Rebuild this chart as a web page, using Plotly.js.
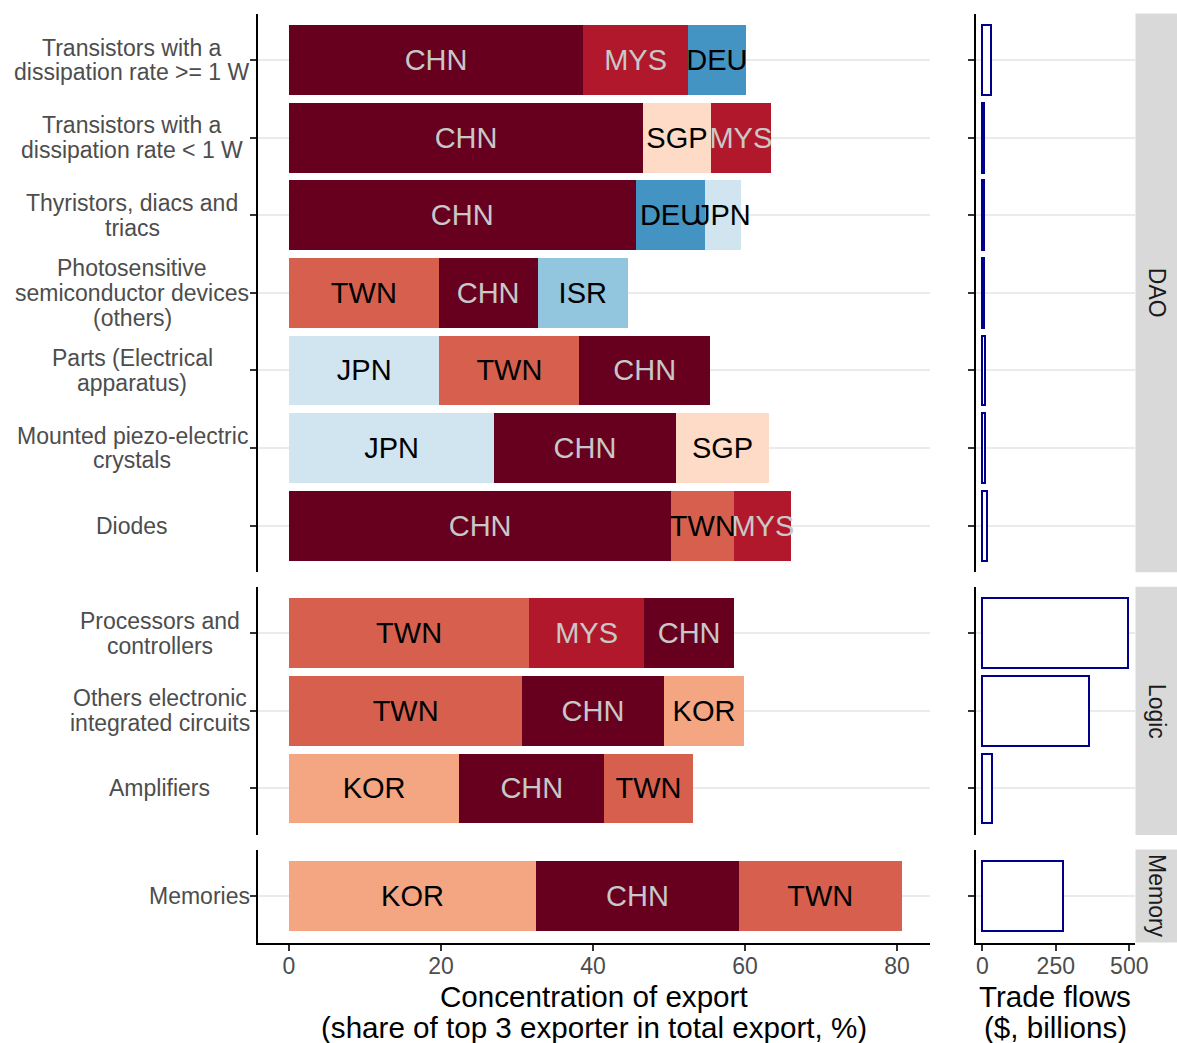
<!DOCTYPE html>
<html><head><meta charset="utf-8">
<script src="https://cdn.plot.ly/plotly-3.0.1.min.js"></script>
<style>html,body{margin:0;padding:0;background:#fff}#chart{width:1177px;height:1043px}</style>
</head><body><div id="chart"></div>
<script>
// ---------------- DATA ----------------
const products = [
  "Transistors with a\ndissipation rate >= 1 W",
  "Transistors with a\ndissipation rate < 1 W",
  "Thyristors, diacs and\ntriacs",
  "Photosensitive\nsemiconductor devices\n(others)",
  "Parts (Electrical\napparatus)",
  "Mounted piezo-electric\ncrystals",
  "Diodes",
  "Processors and\ncontrollers",
  "Others electronic\nintegrated circuits",
  "Amplifiers",
  "Memories"
];
const groups = ["DAO","DAO","DAO","DAO","DAO","DAO","DAO","Logic","Logic","Logic","Memory"];
const exporter1 = ["CHN","CHN","CHN","TWN","JPN","JPN","CHN","TWN","TWN","KOR","KOR"];
const share1    = [38.7, 46.6, 45.6, 19.7, 19.8, 27.0, 50.3, 31.6, 30.7, 22.4, 32.5];
const exporter2 = ["MYS","SGP","DEU","CHN","TWN","CHN","TWN","MYS","CHN","CHN","CHN"];
const share2    = [13.8, 8.9, 9.2, 13.0, 18.4, 23.9, 8.3, 15.1, 18.6, 19.1, 26.7];
const exporter3 = ["DEU","MYS","JPN","ISR","CHN","SGP","MYS","CHN","KOR","TWN","TWN"];
const share3    = [7.6, 7.9, 4.7, 11.9, 17.2, 12.3, 7.5, 11.9, 10.6, 11.6, 21.4];
const tradeFlows = [30, 6, 5, 6, 8, 10, 16, 497, 363, 34, 275];
const facetNames = ["DAO","Logic","Memory"];
const concTicks = [0, 20, 40, 60, 80];
const tradeTicks = [0, 250, 500];
const concTitle = ["Concentration of export", "(share of top 3 exporter in total export, %)"];
const tradeTitle = ["Trade flows", "($, billions)"];

const countryColor = {CHN:"#67001f", MYS:"#b2182b", TWN:"#d6604d", KOR:"#f4a582",
  SGP:"#fddbc7", JPN:"#d1e5f0", ISR:"#92c5de", DEU:"#4393c3"};
const countryText = {CHN:"#c8c8c8", MYS:"#c8c8c8"};

// ---------------- LAYOUT HELPERS ----------------
const W = 1177, H = 1043;
const FONT = "Liberation Sans, Arial, sans-serif";
const px = v => v / W;
const py = v => 1 - v / H;
const facetPx = [[13.5, 572.2], [586.7, 835.0], [849.5, 942.6]];
const leftPanel = [258, 930];
const rightPanel = [975.7, 1135];

const canvas = document.createElement("canvas");
const ctx = canvas.getContext("2d");
ctx.font = "23px 'Liberation Sans'";
const esc = s => s.replace(/&/g,"&amp;").replace(/</g,"&lt;").replace(/>/g,"&gt;");

const traces = [];
const xBase = {showline: true, linecolor: "#000", linewidth: 2, ticks: "outside", ticklen: 6, tickwidth: 2,
  tickcolor: "#333", tickmode: "array", tickfont: {size: 23, color: "#4d4d4d"}, ticklabelstandoff: -4,
  showgrid: false, zeroline: false, fixedrange: true};
const layout = {
  width: W, height: H, margin: {l:0, r:0, t:0, b:0},
  paper_bgcolor: "#fff", plot_bgcolor: "rgba(0,0,0,0)",
  barmode: "stack", bargap: 0.1, showlegend: false,
  font: {family: FONT, color: "#000"},
  shapes: [], annotations: [],
  xaxis: Object.assign({}, xBase, {domain: [px(leftPanel[0]), px(leftPanel[1])], range: [-4.08, 84.34],
    anchor: "y3", tickvals: concTicks}),
  xaxis2: Object.assign({}, xBase, {domain: [px(rightPanel[0]), px(rightPanel[1])], range: [-22.4, 519.4],
    anchor: "y6", tickvals: tradeTicks})
};

facetNames.forEach((fname, k) => {
  const idx = groups.map((g, i) => g === fname ? i : -1).filter(i => i >= 0);
  const names = idx.map(i => products[i]);
  const n = names.length;
  const yl = "y" + (k === 0 ? "" : (k + 1));
  const yr = "y" + (k + 4);
  const dom = [py(facetPx[k][1]), py(facetPx[k][0])];
  const yBase = {domain: dom, type: "category", categoryorder: "array", categoryarray: names,
    range: [n - 0.4, -0.6], showline: true, linecolor: "#000", linewidth: 2,
    ticks: "outside", ticklen: 6, tickwidth: 2, tickcolor: "#333", showticklabels: false,
    showgrid: true, gridcolor: "#ebebeb", gridwidth: 2, zeroline: false, fixedrange: true};
  layout["yaxis" + (k === 0 ? "" : (k + 1))] = Object.assign({}, yBase, {anchor: "x"});
  layout["yaxis" + (k + 4)] = Object.assign({}, yBase, {anchor: "x2"});

  [[exporter1, share1], [exporter2, share2], [exporter3, share3]].forEach(([ex, sh]) => {
    const cs = idx.map(i => ex[i]);
    traces.push({
      type: "bar", orientation: "h", xaxis: "x", yaxis: yl,
      y: names, x: idx.map(i => sh[i]), text: cs,
      marker: {color: cs.map(c => countryColor[c]), line: {width: 0}},
      textposition: "inside", insidetextanchor: "middle", textangle: 0, constraintext: "none",
      textfont: {family: FONT, size: 29, color: cs.map(c => countryText[c] || "#000")},
      cliponaxis: false, hoverinfo: "x+text"
    });
  });
  traces.push({
    type: "bar", orientation: "h", xaxis: "x2", yaxis: yr,
    y: names, x: idx.map(i => tradeFlows[i]),
    marker: {color: "#ffffff", line: {color: "#00008b", width: 2}}, hoverinfo: "x"
  });

  // y tick labels: centred within the facet's label column (width of widest line), right edge at 250px
  const facetMax = Math.max(...names.flatMap(nm => nm.split("\n")).map(l => ctx.measureText(l).width));
  const cx = 250 - facetMax / 2;
  names.forEach(name => {
    const lines = name.split("\n");
    lines.forEach((l, li) => {
      layout.annotations.push({
        xref: "paper", yref: yl, x: px(cx), y: name, xanchor: "center", yanchor: "middle",
        yshift: ((lines.length - 1) / 2 - li) * 24.8, text: esc(l), showarrow: false,
        font: {family: FONT, size: 23, color: "#4d4d4d"}
      });
    });
  });

  // facet strip
  layout.shapes.push({type: "rect", xref: "paper", yref: "paper", x0: px(1135.5), x1: px(1180),
    y0: dom[0], y1: dom[1], fillcolor: "#d9d9d9", line: {width: 0}, layer: "below"});
  layout.annotations.push({xref: "paper", yref: "paper", x: px(1157), y: (dom[0] + dom[1]) / 2,
    text: fname, textangle: 90, showarrow: false, xanchor: "center", yanchor: "middle",
    font: {family: FONT, size: 23, color: "#1a1a1a"}});
});

// axis titles
[[concTitle, (leftPanel[0] + leftPanel[1]) / 2], [tradeTitle, (rightPanel[0] + rightPanel[1]) / 2]].forEach(([t, cx]) => {
  t.forEach((line, li) => {
    layout.annotations.push({xref: "paper", yref: "paper", x: px(cx), y: py(li === 0 ? 996 : 1027),
      text: esc(line), showarrow: false, xanchor: "center", yanchor: "middle",
      font: {family: FONT, size: 29.6, color: "#000"}});
  });
});

Plotly.newPlot("chart", traces, layout, {displayModeBar: false, staticPlot: true});
</script>
</body></html>
